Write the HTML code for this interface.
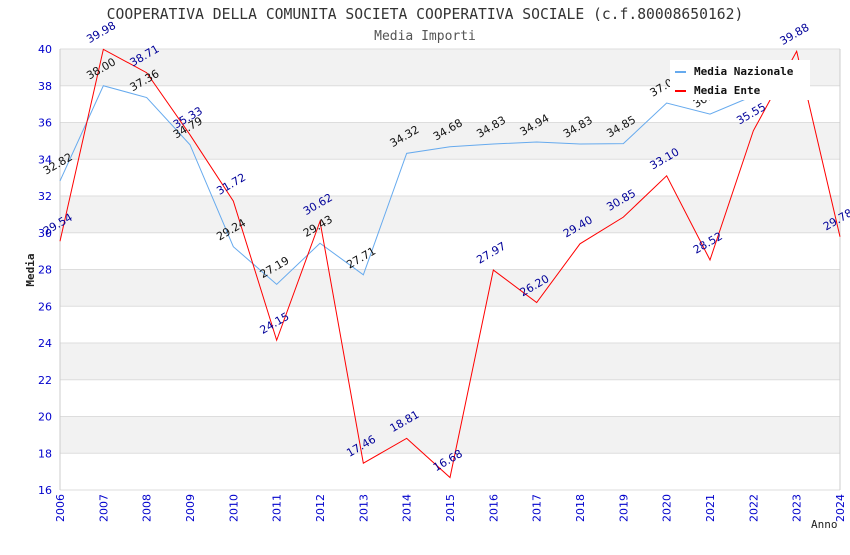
<!DOCTYPE html>
<html><head><meta charset="utf-8"><style>
body{margin:0;background:#fff}
svg text{font-family:"DejaVu Sans Mono","Liberation Mono",monospace}
svg text.s{font-family:"DejaVu Sans","Liberation Sans",sans-serif}
</style></head><body>
<svg id="c" width="850" height="550" xmlns="http://www.w3.org/2000/svg">
<text x="425" y="19" text-anchor="middle" font-size="14.7" fill="#333">COOPERATIVA DELLA COMUNITA SOCIETA COOPERATIVA SOCIALE (c.f.80008650162)</text>
<text x="425" y="40" text-anchor="middle" font-size="13" fill="#555">Media Importi</text>
<g id="bands"></g><g id="grid"></g><g id="axes"></g><g id="series"></g><g id="labels"></g>
<text x="34" y="270" font-size="11" font-weight="bold" fill="#222" transform="rotate(-90 34 270)" text-anchor="middle">Media</text>
<text x="811" y="528" font-size="11" fill="#222">Anno</text>
<g>
<rect x="670" y="60" width="140" height="40" fill="#fff"/>
<line x1="675" y1="72" x2="686" y2="72" stroke="#66aaee" stroke-width="2"/>
<text x="694" y="75" font-size="11" font-weight="bold" fill="#111">Media Nazionale</text>
<line x1="675" y1="91" x2="686" y2="91" stroke="#ff0000" stroke-width="2"/>
<text x="694" y="94" font-size="11" font-weight="bold" fill="#111">Media Ente</text>
</g>
</svg>
<script>
const years=[2006,2007,2008,2009,2010,2011,2012,2013,2014,2015,2016,2017,2018,2019,2020,2021,2022,2023,2024];
const nazionale=[32.82,38.00,37.36,34.79,29.24,27.19,29.43,27.71,34.32,34.68,34.83,34.94,34.83,34.85,37.06,36.46,37.45];
const ente=[29.54,39.98,38.71,35.33,31.72,24.15,30.62,17.46,18.81,16.68,27.97,26.20,29.40,30.85,33.10,28.52,35.55,39.88,29.78];
const yTicks=[16,18,20,22,24,26,28,30,32,34,36,38,40];
const NS="http://www.w3.org/2000/svg";
const X0=60,X1=840,Y0=490,Y1=49,ymin=16,ymax=40;
const xs=i=>X0+(X1-X0)*(years[i]-years[0])/(years[years.length-1]-years[0]);
const ys=v=>Y0-(Y0-Y1)*(v-ymin)/(ymax-ymin);
function mk(t,a,p){const e=document.createElementNS(NS,t);for(const k in a)e.setAttribute(k,a[k]);document.getElementById(p).appendChild(e);return e;}
for(let i=0;i<yTicks.length-1;i++){
 if((yTicks.length-2-i)%2===0){const r=mk('rect',{x:X0,y:ys(yTicks[i+1]),width:X1-X0,height:ys(yTicks[i])-ys(yTicks[i+1]),fill:'#f2f2f2'},'bands');
 
 }
}
yTicks.forEach(v=>{
 const l=mk('line',{x1:X0,x2:X1,y1:ys(v),y2:ys(v),stroke:'#dddddd'},'grid');
 
 
 const t=mk('text',{x:X0-8,y:ys(v)+4,'text-anchor':'end','font-size':11,fill:'#0000cc',class:'s'},'axes');
 
 
 t.textContent=v;
});
mk('line',{x1:X0,x2:X0,y1:Y1,y2:Y0,stroke:'#ccc'},'axes');
mk('line',{x1:X1,x2:X1,y1:Y1,y2:Y0,stroke:'#ccc'},'axes');
years.forEach((y,i)=>{
 const x=xs(i),t=mk('text',{x:x+4,y:Y0+4,'text-anchor':'end','font-size':11,fill:'#0000cc',class:'s',transform:`rotate(-90 ${x+4} ${Y0+4})`},'axes');
 
 
 t.textContent=y;
});
function draw(vals,color,lc,name){
 const p=mk('polyline',{points:vals.map((v,i)=>xs(i)+','+ys(v)).join(' '),fill:'none',stroke:color,'stroke-width':1},'series');
 
 
 vals.forEach((v,i)=>{
  const x=xs(i)-14,y=ys(v)-6;
  const t=mk('text',{x:x,y:y,'font-size':11,fill:lc,class:'s',transform:`rotate(-30 ${x} ${y})`},'labels');
  
  
  t.textContent=v.toFixed(2);
 });
}
draw(nazionale,'#66aaee','#111','nazionale');
draw(ente,'#ff0000','#000099','ente');
</script>
</body></html>
